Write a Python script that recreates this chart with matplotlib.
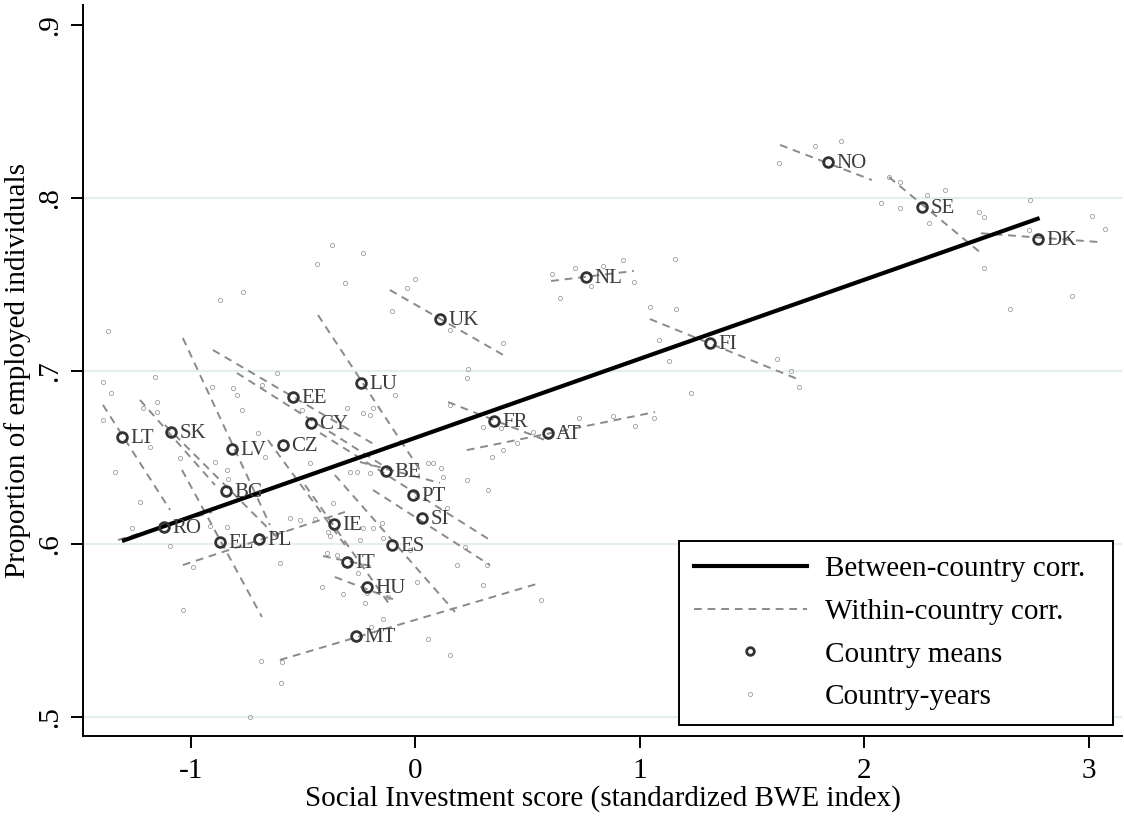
"""Empleo vs. Social Investment: medias por pais, rectas within y between."""
import numpy as np
import matplotlib
matplotlib.use("Agg")
import matplotlib.pyplot as plt
from matplotlib.lines import Line2D

plt.rcParams["font.family"] = ["Liberation Serif", "DejaVu Serif"]

# medias por pais
paises = ["NO", "SE", "DK", "NL", "UK", "FI", "LU", "EE", "CY", "FR", "AT",
          "LT", "SK", "LV", "CZ", "BE", "PT", "SI", "BG", "RO", "IE", "EL",
          "PL", "ES", "IT", "HU", "MT"]
media_x = [1.837, 2.256, 2.773, 0.759, 0.109, 1.312, -0.243, -0.546, -0.465,
           0.350, 0.590, -1.307, -1.089, -0.817, -0.590, -0.131, -0.011,
           0.029, -0.844, -1.120, -0.363, -0.871, -0.697, -0.105, -0.305,
           -0.216, -0.265]
media_y = [0.8208, 0.7948, 0.7763, 0.7543, 0.7300, 0.7161, 0.6930, 0.6849,
           0.6699, 0.6710, 0.6641, 0.6618, 0.6647, 0.6548, 0.6571, 0.6421,
           0.6282, 0.6149, 0.6305, 0.6097, 0.6115, 0.6010, 0.6028, 0.5993,
           0.5895, 0.5750, 0.5467]

# rectas within (extremos por pais, mismo orden)
within_x0 = [1.624, 2.109, 2.519, 0.604, -0.114, 1.044, -0.434, -0.902, -0.795,
             0.145, 0.229, -1.392, -1.227, -1.036, -0.657, -0.247, -0.425,
             -0.189, -1.116, -1.325, -0.492, -1.040, -1.036, -0.359, -0.412,
             -0.359, -0.604]
within_x1 = [2.033, 2.514, 3.058, 0.973, 0.399, 1.713, 0.020, -0.180, -0.114,
             0.577, 1.067, -1.093, -0.893, -0.648, -0.314, 0.109, 0.332,
             0.332, -0.604, -0.906, -0.114, -0.684, -0.314, 0.176, -0.180,
             -0.091, 0.554]
within_y0 = [0.8307, 0.8121, 0.7796, 0.7520, 0.7468, 0.7300, 0.7323, 0.7121,
             0.6988, 0.6820, 0.6542, 0.6803, 0.6832, 0.7190, 0.6600, 0.6473,
             0.6641, 0.6311, 0.6687, 0.6022, 0.6340, 0.6427, 0.5877, 0.6398,
             0.5929, 0.5808, 0.5328]
within_y1 = [0.8104, 0.7687, 0.7744, 0.7578, 0.7086, 0.6947, 0.6427, 0.6572,
             0.6427, 0.6600, 0.6762, 0.6196, 0.6340, 0.6109, 0.5993, 0.6352,
             0.6022, 0.5877, 0.6022, 0.6184, 0.5646, 0.5577, 0.6184, 0.5606,
             0.5866, 0.5675, 0.5773]

# recta between
between_x = [-1.307, 2.780]
between_y = [0.6016, 0.7884]

# observaciones pais-año
anio_x = [-0.314, -0.038, -0.768, -0.871, -1.370, -0.105, 0.154, 0.390, 0.234,
          0.229, -1.160, -1.392, -1.356, -0.617, -0.906, -0.813, -0.684, -0.795,
          -1.214, -1.151, -1.151, -1.392, -0.773, -0.506, -0.305, -0.234, -0.203,
          -0.189, -0.091, 0.154, 0.301, 0.341, 0.390, 0.452, 0.229, 0.323,
          -1.339, -1.227, -1.263, -1.093, -1.183, -1.049, -0.893, -0.840, -0.835,
          -0.702, -0.670, -0.470, -0.292, -0.261, -0.203, 0.056, 0.078, 0.122,
          0.007, 0.140, 0.185, 0.318, 0.301, 0.007, -0.145, -0.225, -0.216,
          -0.256, -0.323, -0.416, -0.394, -0.350, -0.247, -0.145, -0.149, -0.189,
          -0.234, -0.381, -0.390, -0.448, -0.514, -0.559, -0.840, -0.915, -1.036,
          -0.604, -0.991, 0.056, 0.154, -0.367, 0.220, -0.024,
          1.895, 1.780, 1.619, 2.109, 2.158, 2.278, 2.359, 2.073, 2.158, 2.287,
          2.510, 2.532, 2.737, 3.013, 3.071, 2.733, 2.532, 2.924, 2.648, 1.156,
          0.924, 0.835, 0.710, 0.608, 0.782, 0.973, 0.644, -0.002, 1.045, 1.160,
          1.085, 1.129, 1.610, 1.673, 1.708, 1.227, 0.381, 0.523, 0.728, 0.880,
          0.978, 1.062, 0.114, -0.372, -0.234, -0.439, -0.198, -0.122, 0.559,
          -0.688, -0.595, -0.599, -0.737]
anio_y = [0.7508, 0.7480, 0.7456, 0.7410, 0.7231, 0.7347, 0.7237, 0.7161, 0.7011,
          0.6959, 0.6965, 0.6936, 0.6872, 0.6988, 0.6907, 0.6901, 0.6919, 0.6861,
          0.6786, 0.6820, 0.6762, 0.6716, 0.6774, 0.6774, 0.6785, 0.6756, 0.6745,
          0.6785, 0.6861, 0.6803, 0.6676, 0.6502, 0.6543, 0.6583, 0.6369, 0.6311,
          0.6415, 0.6242, 0.6091, 0.5987, 0.6560, 0.6496, 0.6473, 0.6427, 0.6375,
          0.6641, 0.6502, 0.6467, 0.6415, 0.6415, 0.6410, 0.6467, 0.6467, 0.6386,
          0.6271, 0.6207, 0.5877, 0.5877, 0.5762, 0.5779, 0.5565, 0.5658, 0.5715,
          0.5831, 0.5710, 0.5750, 0.5947, 0.5935, 0.6022, 0.6034, 0.6120, 0.6091,
          0.6091, 0.6045, 0.6068, 0.6143, 0.6138, 0.6149, 0.6097, 0.6103, 0.5617,
          0.5889, 0.5866, 0.5449, 0.5357, 0.6236, 0.5981, 0.5964,
          0.8330, 0.8301, 0.8203, 0.8122, 0.8093, 0.8018, 0.8047, 0.7971, 0.7942,
          0.7855, 0.7919, 0.7890, 0.7988, 0.7896, 0.7821, 0.7815, 0.7595, 0.7433,
          0.7358, 0.7647, 0.7641, 0.7607, 0.7595, 0.7561, 0.7491, 0.7514, 0.7421,
          0.7532, 0.7370, 0.7358, 0.7179, 0.7058, 0.7069, 0.7000, 0.6907, 0.6872,
          0.6670, 0.6647, 0.6728, 0.6739, 0.6681, 0.6728, 0.6438, 0.7728, 0.7682,
          0.7618, 0.5519, 0.5692, 0.5675, 0.5322, 0.5316, 0.5195, 0.4998]

GRIS_LINEA = "#8a8a8a"
GRIS_PUNTO = "#9e9e9e"
GRIS_MEDIA = "#333333"
TAM = 21

fig = plt.figure(figsize=(11.24, 8.17), dpi=100)
ax = fig.add_axes([0.0738, 0.0991, 0.9244, 0.8947])

ax.set_xlim(-1.481, 3.147)
ax.set_ylim(0.4888, 0.9116)

for yg in [0.5, 0.6, 0.7, 0.8]:
    ax.axhline(yg, color="#e4edef", lw=1.6, zorder=0)

ax.plot(anio_x, anio_y, ls="none", marker="o", ms=3, mfc="none",
        mec=GRIS_PUNTO, mew=0.6, zorder=1)

for x0, x1, y0, y1 in zip(within_x0, within_x1, within_y0, within_y1):
    ax.plot([x0, x1], [y0, y1], color=GRIS_LINEA, lw=1.4, dashes=(4, 3), zorder=2)

ax.plot(between_x, between_y, color="black", lw=3, zorder=3,
        solid_capstyle="butt")

ax.plot(media_x, media_y, ls="none", marker="o", ms=7, mfc="none",
        mec=GRIS_MEDIA, mew=2.0, zorder=4)
for p, x, y in zip(paises, media_x, media_y):
    ax.annotate(p, (x, y), xytext=(6, -1), textcoords="offset points",
                va="center", ha="left", fontsize=15, color="#3c3c3c", zorder=5)

ax.set_xticks([-1, 0, 1, 2, 3])
ax.set_xticklabels(["-1", "0", "1", "2", "3"])
ax.set_yticks([0.5, 0.6, 0.7, 0.8, 0.9])
ax.set_yticklabels([".5", ".6", ".7", ".8", ".9"], rotation=90, va="center")
ax.tick_params(axis="both", length=8.5, width=1.4, labelsize=TAM, direction="out")
ax.tick_params(axis="x", pad=7)
ax.tick_params(axis="y", pad=6)

for lado in ["top", "right"]:
    ax.spines[lado].set_visible(False)
for lado in ["left", "bottom"]:
    ax.spines[lado].set_linewidth(1.4)

ax.set_xlabel("Social Investment score (standardized BWE index)", fontsize=TAM,
              labelpad=1)
ax.set_ylabel("Proportion of employed individuals", fontsize=TAM, labelpad=4)

handles = [
    Line2D([], [], color="black", lw=3),
    Line2D([], [], color=GRIS_LINEA, lw=1.4, dashes=(4, 3)),
    Line2D([], [], ls="none", marker="o", ms=5.5, mfc="none", mec=GRIS_MEDIA, mew=2.0),
    Line2D([], [], ls="none", marker="o", ms=3, mfc="none", mec=GRIS_PUNTO, mew=0.6),
]
etiquetas = ["Between-country corr.", "Within-country corr.",
             "Country means", "Country-years"]
leg = ax.legend(handles, etiquetas, loc="lower left", mode="expand",
                bbox_to_anchor=(0.5736, 0.01505, 0.4177, 0.25),
                borderaxespad=0, fontsize=TAM, handlelength=3.9,
                handletextpad=0.6, labelspacing=0.56, borderpad=0.5,
                fancybox=False, framealpha=1, edgecolor="black", numpoints=1)
leg.get_frame().set_linewidth(1.4)

fig.savefig("out.png", dpi=100)
